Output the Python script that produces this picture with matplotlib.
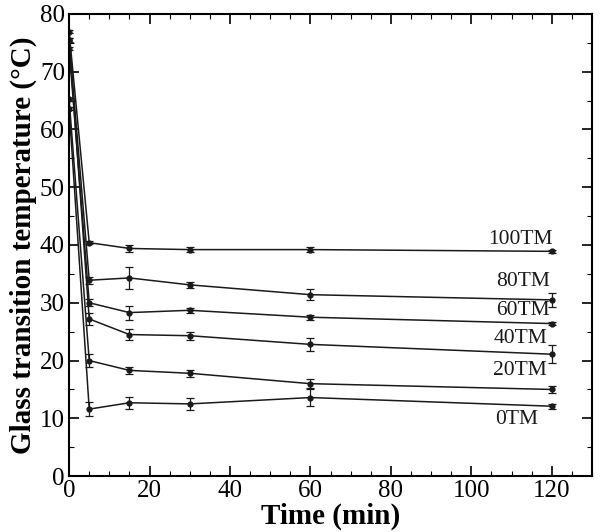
import numpy as np
import matplotlib.pyplot as plt
from matplotlib.ticker import MultipleLocator

plt.rcParams['font.family'] = ['Liberation Serif', 'DejaVu Serif']

# Time points (min)
time = [0, 5, 15, 30, 60, 120]

# Glass transition temperature (deg C) and error bars for each sample
tg_100 = [76.9, 40.4, 39.4, 39.2, 39.2, 38.9]
err_100 = [0.3, 0.3, 0.6, 0.4, 0.4, 0.3]
tg_80 = [75.5, 33.9, 34.3, 33.1, 31.4, 30.5]
err_80 = [0.3, 0.6, 1.9, 0.5, 0.9, 1.2]
tg_60 = [74.0, 30.0, 28.3, 28.7, 27.5, 26.4]
err_60 = [0.3, 0.6, 1.2, 0.4, 0.4, 0.3]
tg_40 = [75.5, 27.2, 24.5, 24.3, 22.8, 21.1]
err_40 = [0.3, 1.0, 0.9, 0.7, 1.1, 1.6]
tg_20 = [65.2, 20.0, 18.3, 17.8, 16.0, 15.0]
err_20 = [0.3, 1.2, 0.6, 0.6, 0.8, 0.6]
tg_0 = [63.6, 11.6, 12.7, 12.5, 13.6, 12.1]
err_0 = [0.3, 1.2, 1.0, 1.0, 1.5, 0.4]

series = [tg_100, tg_80, tg_60, tg_40, tg_20, tg_0]
errors = [err_100, err_80, err_60, err_40, err_20, err_0]
names = ['100TM', '80TM', '60TM', '40TM', '20TM', '0TM']
label_x = [120.3, 119.5, 119.5, 119.0, 118.8, 116.6]
label_y = [41.0, 33.6, 28.7, 23.8, 18.2, 9.8]

fig = plt.figure(figsize=(6.01, 5.32), dpi=100)
ax = fig.add_axes([0.115, 0.105, 0.870, 0.869])

for y, e in zip(series, errors):
    ax.errorbar(time, y, yerr=e, color='#1a1a1a', lw=1.1, marker='o', ms=3.5,
                capsize=3, elinewidth=0.9, capthick=0.9)

for n, lx, ly in zip(names, label_x, label_y):
    ax.text(lx, ly, n, fontsize=15.5, ha='right', va='center', color='#1a1a1a')

ax.set_xlim(0, 130)
ax.set_ylim(0, 80)
ax.xaxis.set_major_locator(MultipleLocator(20))
ax.xaxis.set_minor_locator(MultipleLocator(5))
ax.yaxis.set_major_locator(MultipleLocator(10))
ax.yaxis.set_minor_locator(MultipleLocator(5))
ax.tick_params(which='both', direction='in', top=True, right=True, labelsize=18, pad=3)
ax.tick_params(which='major', length=7, width=1.2)
ax.tick_params(which='minor', length=3.5, width=0.8)
for s in ax.spines.values():
    s.set_linewidth(1.5)

ax.set_xlabel('Time (min)', fontsize=21, fontweight='bold', labelpad=0)
ax.set_ylabel('Glass transition temperature (\u00b0C)', fontsize=21, fontweight='bold', labelpad=2)

plt.savefig('out.png', dpi=100)
